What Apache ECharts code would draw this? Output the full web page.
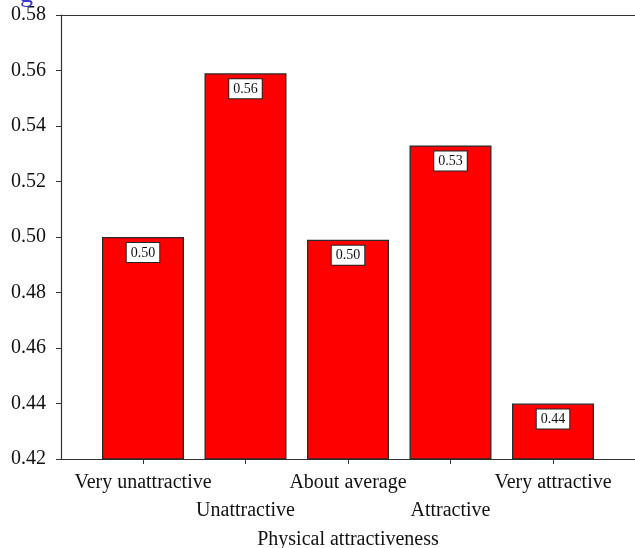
<!DOCTYPE html>
<html>
<head>
<meta charset="utf-8">
<style>
  html, body { margin: 0; padding: 0; background: #fff; }
  #chart { width: 635px; height: 548px; }
</style>
<script src="https://cdn.jsdelivr.net/npm/echarts@6/dist/echarts.min.js"></script>
</head>
<body>
<div id="chart"></div>
<script>
// Mean rating by physical attractiveness group
const categories = ['Very unattractive', 'Unattractive', 'About average', 'Attractive', 'Very attractive'];
const positions = [1, 2, 3, 4, 5];
const means = [0.500, 0.559, 0.499, 0.533, 0.440];
const yTicks = { min: 0.42, max: 0.58, step: 0.02 };

const serif = '"Liberation Serif", "DejaVu Serif", serif';

// category labels alternate between two rows below the axis
const upperRow = positions.filter((p, i) => i % 2 === 0);
const lowerRow = positions.filter((p, i) => i % 2 === 1);
const nameAt = v => categories[Math.round(v) - 1];

const chart = echarts.init(document.getElementById('chart'), null, { renderer: 'canvas' });

const labelStyle = { fontFamily: serif, fontSize: 20, color: '#111' };

chart.setOption({
  animation: false,
  backgroundColor: '#fff',
  title: {
    text: 'g',
    left: 15,
    top: -23,
    textStyle: { color: '#3a3ad0', fontFamily: serif, fontSize: 26, fontWeight: 'normal' }
  },
  grid: { left: 61, right: 0, top: 15, bottom: 89, containLabel: false, outerBoundsMode: 'none' },
  xAxis: [
    {
      type: 'value',
      min: 0.2,
      max: 5.8,
      position: 'bottom',
      splitLine: { show: false },
      axisLine: { show: true, lineStyle: { color: '#333', width: 1.2 } },
      axisTick: { show: true, length: 5, customValues: positions, lineStyle: { color: '#333' } },
      axisLabel: Object.assign({
        customValues: upperRow,
        showMinLabel: true,
        showMaxLabel: true,
        hideOverlap: false,
        margin: 14,
        formatter: nameAt
      }, labelStyle),
      name: 'Physical attractiveness',
      nameLocation: 'middle',
      nameGap: 71,
      nameTextStyle: labelStyle
    },
    {
      type: 'value',
      min: 0.2,
      max: 5.8,
      position: 'top',
      splitLine: { show: false },
      axisLine: { show: true, lineStyle: { color: '#333', width: 1.2 } },
      axisTick: { show: false },
      axisLabel: { show: false }
    },
    {
      type: 'value',
      min: 0.2,
      max: 5.8,
      position: 'bottom',
      offset: 0,
      splitLine: { show: false },
      axisLine: { show: false },
      axisTick: { show: false },
      axisLabel: Object.assign({
        customValues: lowerRow,
        showMinLabel: true,
        showMaxLabel: true,
        hideOverlap: false,
        margin: 42,
        formatter: nameAt
      }, labelStyle)
    }
  ],
  yAxis: {
    type: 'value',
    min: yTicks.min,
    max: yTicks.max,
    interval: yTicks.step,
    splitLine: { show: false },
    axisLine: { show: true, lineStyle: { color: '#333', width: 1.2 } },
    axisTick: { show: true, length: 5, lineStyle: { color: '#333' } },
    axisLabel: Object.assign({
      margin: 15,
      showMinLabel: true,
      showMaxLabel: true,
      formatter: v => v.toFixed(2)
    }, labelStyle)
  },
  series: [
    {
      type: 'bar',
      xAxisIndex: 0,
      data: positions.map((p, i) => [p, means[i]]),
      barWidth: 82,
      clip: true,
      itemStyle: { color: '#ff0000', borderColor: '#2a2a2a', borderWidth: 1.3 },
      label: {
        show: true,
        position: 'insideTop',
        distance: 6,
        formatter: p => p.value[1].toFixed(2),
        fontFamily: serif,
        fontSize: 14,
        color: '#111',
        backgroundColor: '#fff',
        borderColor: '#222',
        borderWidth: 1,
        padding: [3, 4, 2, 4]
      }
    }
  ]
});
</script>
</body>
</html>
